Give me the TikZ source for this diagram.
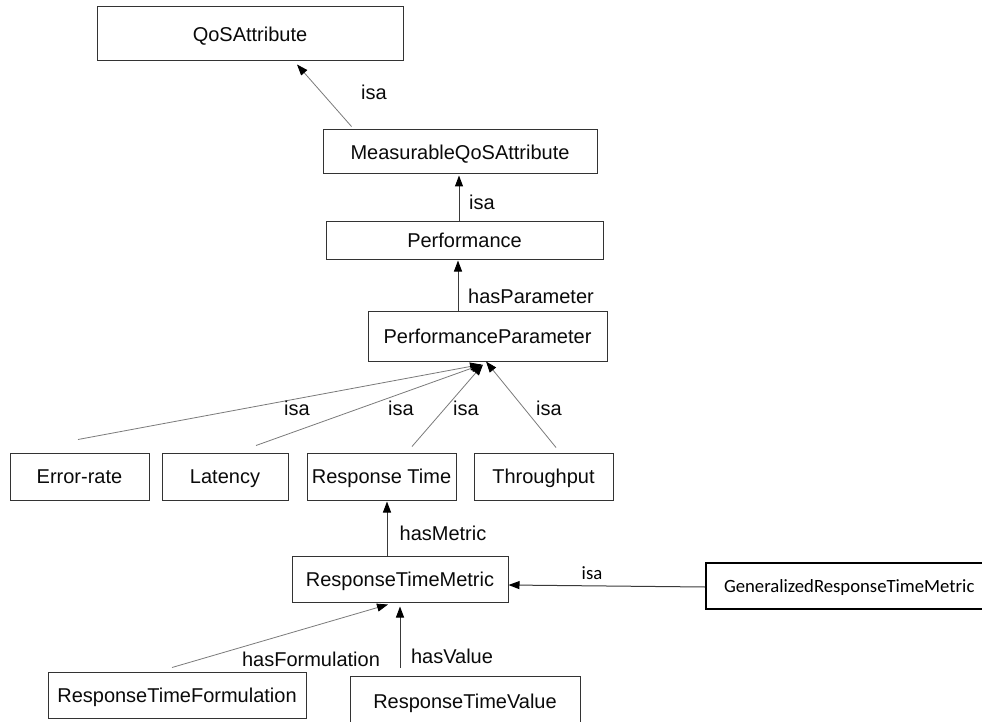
\documentclass[tikz,border=0pt]{standalone}
\usepackage{fontspec}
\setmainfont{Liberation Sans}
\newfontfamily\calfont{Carlito}
\usetikzlibrary{arrows.meta,calc}

\definecolor{txt}{HTML}{0A0A0A}
\definecolor{boxline}{HTML}{333333}
\definecolor{thinline}{HTML}{7A7A7A}
\definecolor{darkline}{HTML}{3A3A3A}

\begin{document}
\begin{tikzpicture}[x=1pt,y=-1pt,
  box/.style={draw=boxline, line width=1pt, inner sep=0pt, text=txt,
    text height=14.3pt, text depth=0pt,
    font=\fontsize{20}{24}\selectfont},
  boldbox/.style={draw=black, line width=1.8pt, inner sep=0pt, text=black,
    text height=12.5pt, text depth=0pt,
    font=\calfont\fontsize{18.7}{22}\selectfont},
  lbl/.style={inner sep=0pt, text=txt, font=\fontsize{20}{24}\selectfont},
  callbl/.style={inner sep=0pt, text=black, font=\calfont\fontsize{18.7}{22}\selectfont},
  tip/.style={-{Triangle[length=11pt,width=8pt,color=black]}},
  thinarr/.style={tip, draw=thinline, line width=0.8pt},
  darkarr/.style={tip, draw=darkline, line width=1pt}
]
\useasboundingbox (0,0) rectangle (982,722);

% class boxes
\node[box, minimum width=306pt, minimum height=54pt] (qa)   at (250,34)    {QoSAttribute};
\node[box, minimum width=274pt, minimum height=44pt] (mqa)  at (460,152)   {MeasurableQoSAttribute};
\node[box, minimum width=277pt, minimum height=38pt] (perf) at (464.5,240) {Performance};
\node[box, minimum width=239pt, minimum height=50pt] (pp)   at (487.5,336) {PerformanceParameter};
\node[box, minimum width=139pt, minimum height=47pt] (er)   at (79.5,476.5)  {Error-rate};
\node[box, minimum width=126pt, minimum height=47pt] (lat)  at (225,476.5)   {Latency};
\node[box, minimum width=149pt, minimum height=47pt] (rt)   at (381.5,476.5) {Response Time};
\node[box, minimum width=139pt, minimum height=47pt] (tp)   at (543.5,476.5) {Throughput};
\node[box, minimum width=216pt, minimum height=46pt] (rtm)  at (400,579)   {ResponseTimeMetric};
\node[boldbox, minimum width=286pt, minimum height=46pt, text width=286pt, align=left] (grtm) at (849,586)
  {\hspace*{18pt}GeneralizedResponseTimeMetric};
\node[box, minimum width=258pt, minimum height=46pt] (rtf)  at (177,695)   {ResponseTimeFormulation};
\node[box, minimum width=230pt, minimum height=50pt] (rtv)  at (465,701)   {ResponseTimeValue};

% relations
\draw[thinarr] ($(mqa.north west)+(29,-3)$) -- ($(qa.south)+(47,3)$);
\draw[darkarr] ($(perf.north)+(-5.5,0)$) -- ($(mqa.south)+(-1,1)$);
\draw[darkarr] ($(pp.north)+(-29.5,0)$) -- ($(perf.south)+(-6.5,1)$);
\draw[thinarr] ($(er.north)+(-1.5,-13)$) -- ($(pp.south)+(-6.5,3)$);
\draw[thinarr] ($(lat.north)+(31,-7)$) -- ($(pp.south)+(-5.5,3)$);
\draw[thinarr] ($(rt.north)+(30.5,-6)$) -- ($(pp.south)+(-4.5,3)$);
\draw[thinarr] ($(tp.north)+(12.5,-5)$) -- ($(pp.south)+(-1.5,0)$);
\draw[darkarr] ($(rtm.north)+(-13,0)$) -- ($(rt.south)+(5.5,1)$);
\draw[darkarr] ($(grtm.west)+(0,1)$) -- ($(rtm.east)+(0,6)$);
\draw[thinarr] ($(rtf.north)+(-5,-4)$) -- ($(rtm.south)+(-12,2)$);
\draw[darkarr] ($(rtv.north)+(-65,-8)$) -- ($(rtm.south)+(0,4)$);

% relation labels
\node[lbl] (l1)  at (374,92)  {isa};
\node[lbl] (l2)  at (482,202) {isa};
\node[lbl] (l3)  at (531,296) {hasParameter};
\node[lbl] (l4)  at (297,408) {isa};
\node[lbl] (l5)  at (401,408) {isa};
\node[lbl] (l6)  at (466,408) {isa};
\node[lbl] (l7)  at (549,408) {isa};
\node[lbl] (l8)  at (443,533) {hasMetric};
\node[callbl] (l9) at (592,573) {isa};
\node[lbl] (l10) at (311,659) {hasFormulation};
\node[lbl] (l11) at (452,656) {hasValue};
\end{tikzpicture}
\end{document}
